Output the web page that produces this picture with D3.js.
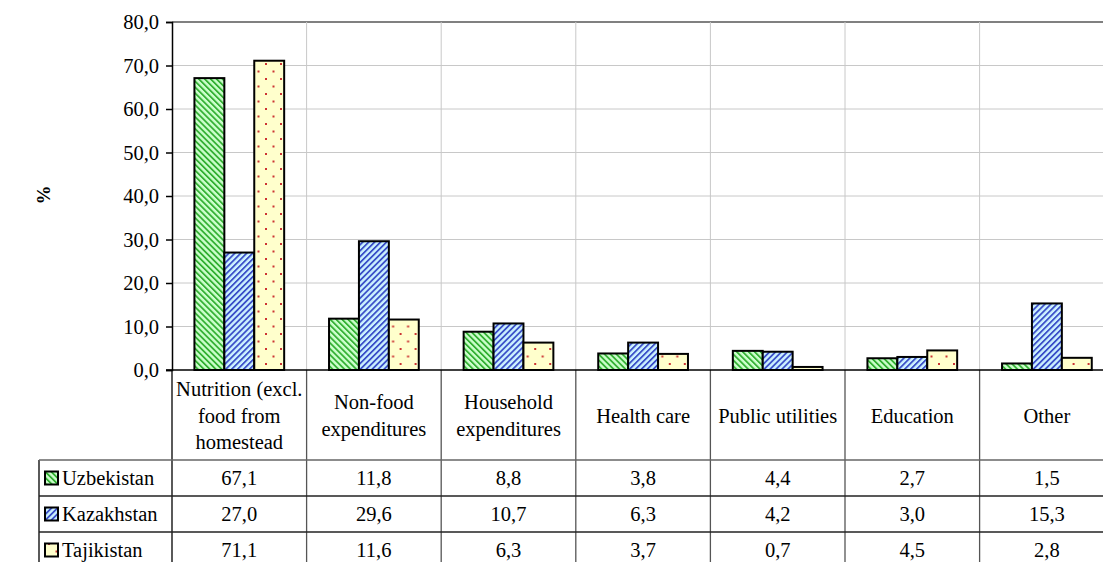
<!DOCTYPE html>
<html>
<head>
<meta charset="utf-8">
<script src="https://cdn.jsdelivr.net/npm/d3@7"></script>
<style>
  html, body { margin: 0; padding: 0; background: #fff; }
  svg { display: block; }
</style>
</head>
<body>
<svg id="chart" width="1103" height="562"></svg>
<script>
// Expenditure structure by country, % of total
const categories = [
  "Nutrition (excl. food from homestead",
  "Non-food expenditures",
  "Household expenditures",
  "Health care",
  "Public utilities",
  "Education",
  "Other"
];
const categoryLines = [
  ["Nutrition (excl.", "food from", "homestead"],
  ["Non-food", "expenditures"],
  ["Household", "expenditures"],
  ["Health care"],
  ["Public utilities"],
  ["Education"],
  ["Other"]
];
const series = ["Uzbekistan", "Kazakhstan", "Tajikistan"];
const uzbekistan = [67.1, 11.8, 8.8, 3.8, 4.4, 2.7, 1.5];
const kazakhstan = [27.0, 29.6, 10.7, 6.3, 4.2, 3.0, 15.3];
const tajikistan = [71.1, 11.6, 6.3, 3.7, 0.7, 4.5, 2.8];
const yTicks = [0, 10, 20, 30, 40, 50, 60, 70, 80];

const seriesValues = [uzbekistan, kazakhstan, tajikistan];
const fmt = v => v.toFixed(1).replace(".", ",");
const FONT = "'Liberation Serif', 'Times New Roman', serif";
const FS = 20.5;

const svg = d3.select("#chart");
const W = 1103, H = 562;

// layout
const plotLeft = 172, catW = 134.6;
const plotRight = plotLeft + catW * categories.length;
const topY = 22, zeroY = 370;
const headerBottom = 460, rowH = 36;
const tableLeft = 39;

// patterns
const defs = svg.append("defs");
function stripes(id, bg, fg, angle) {
  const p = defs.append("pattern")
    .attr("id", id).attr("patternUnits", "userSpaceOnUse")
    .attr("width", 4.2).attr("height", 4.2)
    .attr("patternTransform", `rotate(${angle})`);
  p.append("rect").attr("width", 4.2).attr("height", 4.2).attr("fill", bg);
  p.append("rect").attr("width", 1.8).attr("height", 4.2).attr("fill", fg);
}
stripes("pat-uz", "#ccffcc", "#33b033", -45);
stripes("pat-kz", "#ccf2ff", "#3a4fc8", 45);
const dots = defs.append("pattern")
  .attr("id", "pat-tj").attr("patternUnits", "userSpaceOnUse")
  .attr("width", 15).attr("height", 15);
dots.append("rect").attr("width", 15).attr("height", 15).attr("fill", "#ffffcc");
[[3, 3], [10.5, 10.5]].forEach(([cx, cy]) =>
  dots.append("rect").attr("x", cx).attr("y", cy).attr("width", 2).attr("height", 2).attr("fill", "#cc3333"));
const fills = ["url(#pat-uz)", "url(#pat-kz)", "url(#pat-tj)"];

// scales
const x = d3.scaleBand().domain(categories).range([plotLeft, plotRight]);
const xs = d3.scaleBand().domain(series).range([0, x.bandwidth()]).paddingOuter(0.75);
const y = d3.scaleLinear().domain([0, 80]).range([zeroY, topY]);

// horizontal gridlines
svg.append("g").selectAll("line").data(yTicks.filter(t => t > 0 && t < 80)).join("line")
  .attr("x1", plotLeft).attr("x2", W)
  .attr("y1", d => y(d)).attr("y2", d => y(d))
  .attr("stroke", "#c8c8c8").attr("stroke-width", 1);
// top border of the plot area
svg.append("line").attr("x1", plotLeft).attr("x2", W)
  .attr("y1", y(80)).attr("y2", y(80))
  .attr("stroke", "#808080").attr("stroke-width", 2);
// vertical gridlines between categories
svg.append("g").selectAll("line").data(categories.slice(1)).join("line")
  .attr("x1", d => x(d)).attr("x2", d => x(d))
  .attr("y1", topY).attr("y2", zeroY)
  .attr("stroke", "#c8c8c8").attr("stroke-width", 1);

// bars
const groups = svg.append("g").selectAll("g").data(categories).join("g")
  .attr("transform", d => `translate(${x(d)},0)`);
groups.selectAll("rect").data((d, i) => series.map((s, j) => ({ s, j, v: seriesValues[j][i] }))).join("rect")
  .attr("x", d => xs(d.s))
  .attr("width", xs.bandwidth())
  .attr("y", d => y(d.v))
  .attr("height", d => y(0) - y(d.v))
  .attr("fill", d => fills[d.j])
  .attr("stroke", "#000").attr("stroke-width", 2);

// y axis
const yAxis = svg.append("g").attr("transform", `translate(${plotLeft},0)`)
  .call(d3.axisLeft(y).tickValues(yTicks).tickFormat(fmt).tickSize(6).tickPadding(7));
yAxis.select(".domain").attr("stroke", "#000").attr("stroke-width", 1.5);
yAxis.selectAll(".tick line").attr("stroke", "#000").attr("stroke-width", 1.5);
yAxis.selectAll(".tick text").style("font-size", FS + "px").style("font-family", FONT).attr("fill", "#000");

svg.append("text")
  .attr("transform", "translate(46,195) rotate(-90)")
  .attr("text-anchor", "middle").attr("dominant-baseline", "middle")
  .style("font-family", FONT).style("font-size", "19px").style("font-weight", "bold").text("%");

// data table
const table = svg.append("g");
// column lines
table.selectAll("line.col").data(categories).join("line").attr("class", "col")
  .attr("x1", d => x(d)).attr("x2", d => x(d))
  .attr("y1", zeroY).attr("y2", H)
  .attr("stroke", (d, i) => i === 0 ? "#000" : "#555").attr("stroke-width", 1.3);
table.append("line").attr("x1", plotRight).attr("x2", plotRight)
  .attr("y1", zeroY).attr("y2", H).attr("stroke", "#555");
// left border of the legend column
table.append("line").attr("x1", tableLeft).attr("x2", tableLeft)
  .attr("y1", headerBottom).attr("y2", H).attr("stroke", "#000").attr("stroke-width", 1.3);
// row lines
table.selectAll("line.row").data(d3.range(series.length)).join("line").attr("class", "row")
  .attr("x1", tableLeft).attr("x2", W)
  .attr("y1", i => headerBottom + i * rowH).attr("y2", i => headerBottom + i * rowH)
  .attr("stroke", i => i === 0 ? "#666" : "#222").attr("stroke-width", 1.3);
// x axis line at zero
svg.append("line").attr("x1", plotLeft - 6).attr("x2", W)
  .attr("y1", zeroY).attr("y2", zeroY).attr("stroke", "#000").attr("stroke-width", 1.5);

// category headers
const lineH = 26.5;
table.selectAll("text.cat").data(categories).join("text").attr("class", "cat")
  .attr("text-anchor", "middle").style("font-size", FS + "px").style("font-family", FONT).attr("fill", "#000")
  .each(function (d, i) {
    const lines = categoryLines[i];
    const cx = x(d) + x.bandwidth() / 2;
    const cy = (zeroY + headerBottom) / 2 + 0.5;
    const t = d3.select(this);
    lines.forEach((ln, k) => {
      t.append("tspan").attr("x", cx)
        .attr("y", cy + (k - (lines.length - 1) / 2) * lineH)
        .attr("dominant-baseline", "central").text(ln);
    });
  });

// value rows with legend keys
series.forEach((s, j) => {
  const cy = headerBottom + j * rowH + rowH / 2;
  table.append("rect").attr("x", 45).attr("y", cy - 6.5).attr("width", 13).attr("height", 13)
    .attr("fill", fills[j]).attr("stroke", "#000").attr("stroke-width", 2);
  table.append("text").attr("x", 62).attr("y", cy).attr("dominant-baseline", "central")
    .style("font-size", FS + "px").style("font-family", FONT).attr("fill", "#000").text(s);
  table.selectAll(null).data(categories).join("text")
    .attr("x", d => x(d) + x.bandwidth() / 2).attr("y", cy)
    .attr("text-anchor", "middle").attr("dominant-baseline", "central")
    .style("font-size", FS + "px").style("font-family", FONT).attr("fill", "#000")
    .text((d, i) => fmt(seriesValues[j][i]));
});
</script>
</body>
</html>
